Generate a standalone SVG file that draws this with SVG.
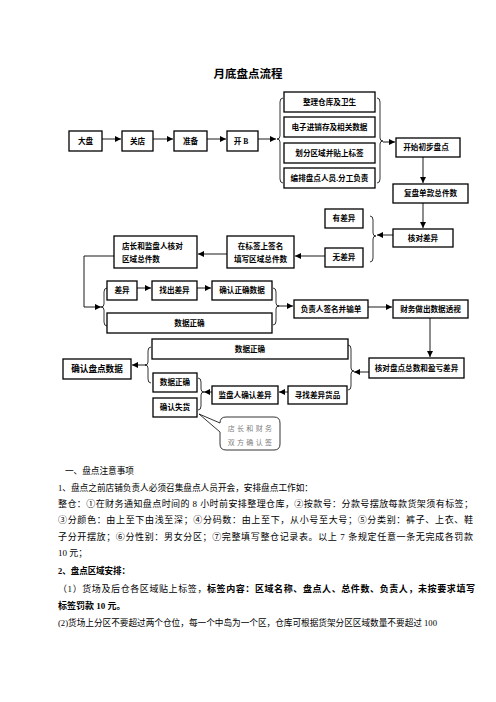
<svg xmlns="http://www.w3.org/2000/svg" width="496" height="702" viewBox="0 0 496 702">
<style>
.bx{fill:#fff;stroke:#000;stroke-width:1.3}
.t{font-family:"Liberation Serif","Noto Sans CJK SC",serif;font-size:7.6px;font-weight:bold;fill:#000;text-anchor:middle}
.tl{font-family:"Liberation Serif","Noto Sans CJK SC",serif;font-size:7.6px;font-weight:bold;fill:#000}
.g{fill:none;stroke:#808080;stroke-width:1.8}
.k{fill:none;stroke:#000;stroke-width:0.9}
.br{fill:none;stroke:#000;stroke-width:0.8}
.p{font-family:"Liberation Serif","Noto Sans CJK SC",serif;font-size:9px;fill:#000}
.pb{font-weight:bold}
</style>
<defs>
<marker id="ah" markerUnits="userSpaceOnUse" markerWidth="7" markerHeight="6" refX="6" refY="3" orient="auto"><path d="M0,0 L6,3 L0,6 Z" fill="#000"/></marker>
</defs>
<rect width="496" height="702" fill="#fff"/>
<text x="248" y="78" font-family="Liberation Serif,Noto Sans CJK SC,serif" font-size="11.5" font-weight="bold" text-anchor="middle">月底盘点流程</text>

<g id="connectors">
<path class="g" d="M102,139 H121" marker-end="url(#ah)"/>
<path class="g" d="M153,139 H173" marker-end="url(#ah)"/>
<path class="g" d="M207,139 H226" marker-end="url(#ah)"/>
<path class="g" d="M258,139 H276" marker-end="url(#ah)"/>
<path class="k" d="M383,142 H395" marker-end="url(#ah)"/>
<path class="g" d="M423,157 V183" marker-end="url(#ah)"/>
<path class="g" d="M423,203 V228" marker-end="url(#ah)"/>
<path class="g" d="M393,235 H377" marker-end="url(#ah)"/>
<path class="g" d="M325,256 H295" marker-end="url(#ah)"/>
<path class="g" d="M227,254 H198" marker-end="url(#ah)"/>
<path class="k" d="M114,256 H84 V307 H101" marker-end="url(#ah)"/>
<path class="k" d="M137,288 H151" marker-end="url(#ah)"/>
<path class="k" d="M197,288 H211" marker-end="url(#ah)"/>
<path class="g" d="M278,306 H293" marker-end="url(#ah)"/>
<path class="g" d="M368,307 H392" marker-end="url(#ah)"/>
<path class="k" d="M430,318 V357" marker-end="url(#ah)"/>
<path class="g" d="M369,372 H354" marker-end="url(#ah)"/>
<path class="k" d="M288,392 H279" marker-end="url(#ah)"/>
<path class="g" d="M212,392 H204" marker-end="url(#ah)"/>
<path class="k" d="M146,365 H132" marker-end="url(#ah)"/>
<!-- braces -->
<path class="br" d="M283,98 Q280,98 280,102 V136 Q280,139 277,139 Q280,139 280,142 V179 Q280,183 283,183"/>
<path class="br" d="M377,98 Q380,98 380,102 V138 Q380,141 383,141 Q380,141 380,144 V179 Q380,183 377,183"/>
<path class="br" d="M370,216 Q373,216 373,220 V233 Q373,236 376,236 Q373,236 373,239 V258 Q373,262 370,262"/>
<path class="br" d="M107,288 Q104,288 104,292 V304 Q104,307 101,307 Q104,307 104,310 V322 Q104,326 107,326"/>
<path class="br" d="M273,288 Q276,288 276,292 V303 Q276,306 279,306 Q276,306 276,309 V321 Q276,325 273,325"/>
<path class="br" d="M348,345 Q351,345 351,349 V368 Q351,371 354,371 Q351,371 351,374 V386 Q351,390 348,390"/>
<path class="br" d="M198,378 Q201,378 201,382 V389 Q201,392 204,392 Q201,392 201,395 V406 Q201,410 198,410"/>
<path class="br" d="M151,347 Q148,347 148,351 V362 Q148,365 145,365 Q148,365 148,368 V379 Q148,383 151,383"/>
</g>

<g id="n1"><rect class="bx" x="69" y="131" width="33" height="20"/><text class="t" x="85.5" y="143.7">大盘</text></g>
<g id="n2"><rect class="bx" x="122" y="131" width="31" height="20"/><text class="t" x="137.5" y="143.7">关店</text></g>
<g id="n3"><rect class="bx" x="174" y="131" width="33" height="20"/><text class="t" x="190.5" y="143.7">准备</text></g>
<g id="n4"><rect class="bx" x="227" y="131" width="31" height="20"/><text class="t" x="241" y="143.7">开 B</text></g>
<g id="n5"><rect class="bx" x="284" y="92" width="91" height="20"/><text class="t" x="329.5" y="104.7">整理仓库及卫生</text></g>
<g id="n6"><rect class="bx" x="284" y="117" width="91" height="20"/><text class="t" x="329.5" y="129.7">电子进销存及相关数据</text></g>
<g id="n7"><rect class="bx" x="284" y="143" width="91" height="20"/><text class="t" x="329.5" y="155.7">划分区域并贴上标签</text></g>
<g id="n8"><rect class="bx" x="284" y="168" width="91" height="20"/><text class="t" x="329.5" y="180.7">编排盘点人员.分工负责</text></g>
<g id="n9"><rect class="bx" x="396" y="138" width="64" height="19"/><text class="t" x="426" y="150.2">开始初步盘点</text></g>
<g id="n10"><rect class="bx" x="393" y="184" width="75" height="19"/><text class="t" x="430.5" y="196.2">复盘单款总件数</text></g>
<g id="n11"><rect class="bx" x="393" y="229" width="60" height="18"/><text class="t" x="423" y="240.7">核对差异</text></g>
<g id="n12"><rect class="bx" x="325" y="209" width="38" height="19"/><text class="t" x="344" y="221.2">有差异</text></g>
<g id="n13"><rect class="bx" x="325" y="248" width="38" height="19"/><text class="t" x="344" y="260.2">无差异</text></g>
<g id="n14"><rect class="bx" x="227" y="236" width="67" height="32"/><text class="t" x="260.5" y="249">在标签上签名</text><text class="t" x="260.5" y="262">填写区域总件数</text></g>
<g id="n15"><rect class="bx" x="114" y="236" width="83" height="32"/><text class="tl" x="122" y="249">店长和监盘人核对</text><text class="tl" x="122" y="262">区域总件数</text></g>
<g id="n16"><rect class="bx" x="107" y="281" width="30" height="19"/><text class="t" x="122" y="293.2">差异</text></g>
<g id="n17"><rect class="bx" x="152" y="281" width="45" height="19"/><text class="t" x="174.5" y="293.2">找出差异</text></g>
<g id="n18"><rect class="bx" x="212" y="281" width="60" height="19"/><text class="t" x="242" y="293.2">确认正确数据</text></g>
<g id="n19"><rect class="bx" x="107" y="313" width="165" height="20"/><text class="t" x="189.5" y="325.7">数据正确</text></g>
<g id="n20"><rect class="bx" x="294" y="300" width="74" height="18"/><text class="t" x="331" y="311.7">负责人签名并输单</text></g>
<g id="n21"><rect class="bx" x="393" y="300" width="75" height="18"/><text class="t" x="430.5" y="311.7">财务做出数据透视</text></g>
<g id="n22"><rect class="bx" x="369" y="358" width="95" height="20"/><text class="t" x="416.5" y="370.7">核对盘点总数和盈亏差异</text></g>
<g id="n23"><rect class="bx" x="152" y="339" width="196" height="20"/><text class="t" x="250" y="351.7">数据正确</text></g>
<g id="n24"><rect class="bx" x="288" y="386" width="59" height="18"/><text class="t" x="317.5" y="397.7">寻找差异货品</text></g>
<g id="n25"><rect class="bx" x="212" y="386" width="66" height="18"/><text class="t" x="245" y="397.7">监盘人确认差异</text></g>
<g id="n26"><rect class="bx" x="153" y="373" width="44" height="19"/><text class="t" x="175" y="385.2">数据正确</text></g>
<g id="n27"><rect class="bx" x="153" y="398" width="44" height="19"/><text class="t" x="175" y="410.2">确认失货</text></g>
<g id="n28"><rect class="bx" x="63" y="359" width="68" height="20"/><text class="t" x="97" y="372" style="font-size:8.6px">确认盘点数据</text></g>
<g id="n29"><path d="M226,417 H274 Q280,417 280,423 V444 Q280,450 274,450 H226 Q220,450 220,444 V432 L199,414 L220,423 Q220,417 226,417 Z" fill="#fff" stroke="#000" stroke-width="0.8"/>
<text x="251" y="431" font-family="Liberation Serif,Noto Sans CJK SC,serif" font-size="7" fill="#808080" text-anchor="middle" letter-spacing="2.3">店长和财务</text>
<text x="251" y="445" font-family="Liberation Serif,Noto Sans CJK SC,serif" font-size="7" fill="#808080" text-anchor="middle" letter-spacing="2.3">双方确认签</text></g>

<g id="notes">
<text class="p" x="65" y="473.5" textLength="69" lengthAdjust="spacingAndGlyphs">一、盘点注意事项</text>
<text class="p" x="58" y="491" textLength="255" lengthAdjust="spacingAndGlyphs">1、盘点之前店铺负责人必须召集盘点人员开会，安排盘点工作如：</text>
<text class="p" x="58" y="507" textLength="415" lengthAdjust="spacing">整仓：①在财务通知盘点时间的 8 小时前安排整理仓库，②按款号：分款号摆放每款货架须有标签；</text>
<text class="p" x="58" y="523" textLength="415" lengthAdjust="spacing">③分颜色：由上至下由浅至深；④分码数：由上至下，从小号至大号；⑤分类别：裤子、上衣、鞋</text>
<text class="p" x="58" y="540" textLength="415" lengthAdjust="spacing">子分开摆放；⑥分性别：男女分区；⑦完整填写整仓记录表。以上 7 条规定任意一条无完成各罚款</text>
<text class="p" x="58" y="556">10 元；</text>
<text class="p pb" x="58" y="574" textLength="72" lengthAdjust="spacingAndGlyphs">2、盘点区域安排：</text>
<text class="p" x="58" y="592" textLength="417" lengthAdjust="spacing">（1）货场及后仓各区域贴上标签，<tspan class="pb">标签内容：区域名称、盘点人、总件数、负责人，未按要求填写</tspan></text>
<text class="p pb" x="58" y="609">标签罚款 10 元。</text>
<text class="p" x="58" y="626" textLength="379" lengthAdjust="spacingAndGlyphs">(2)货场上分区不要超过两个仓位，每一个中岛为一个区，仓库可根据货架分区区域数量不要超过 100</text>
</g>
</svg>
